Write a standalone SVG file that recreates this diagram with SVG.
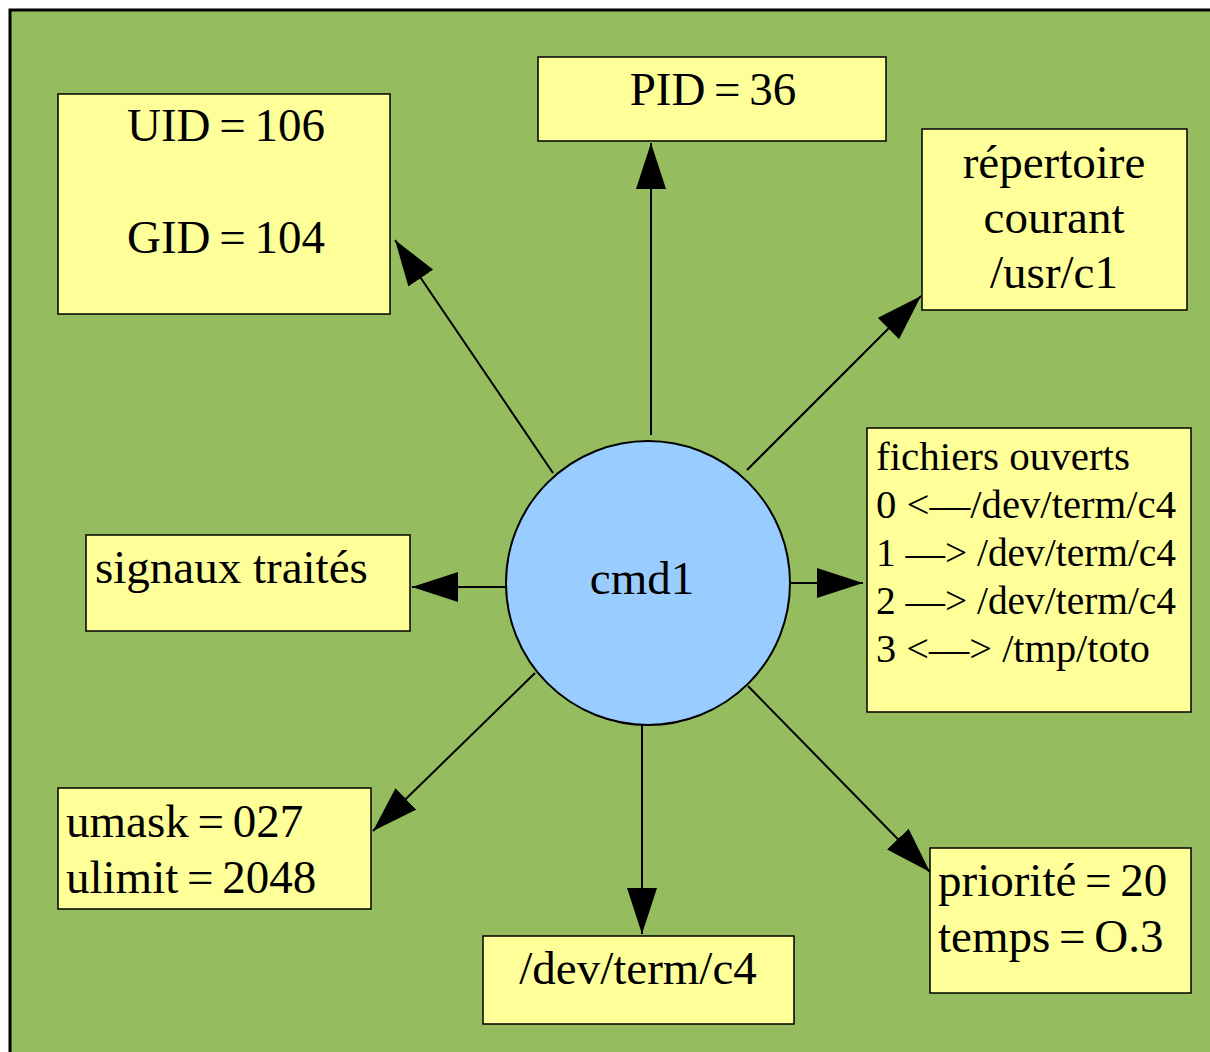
<svg xmlns="http://www.w3.org/2000/svg" width="1210" height="1052" viewBox="0 0 1210 1052">
<defs>
<style>
.box{fill:#ffff99;stroke:#000;stroke-width:1.5}
.t{font-family:"Liberation Serif","Times New Roman",serif;fill:#000;font-size:47px}
.eq{word-spacing:-3px}
.f{font-size:41px}
.c{stroke:#000;stroke-width:2;fill:none}
</style>
<marker id="ah" markerWidth="46" markerHeight="30" refX="46" refY="15" orient="auto" markerUnits="userSpaceOnUse">
<path d="M0,0 L46,15 L0,30 Z" fill="#000"/>
</marker>
</defs>
<rect x="0" y="0" width="1210" height="1052" fill="#fff"/>
<rect x="10" y="10" width="1220" height="1060" fill="#95bd5f" stroke="#000" stroke-width="3"/>
<g id="connectors">
<line class="c" x1="553" y1="473" x2="395" y2="240" marker-end="url(#ah)"/>
<line class="c" x1="651" y1="435" x2="651" y2="143" marker-end="url(#ah)"/>
<line class="c" x1="747" y1="470" x2="921" y2="296" marker-end="url(#ah)"/>
<line class="c" x1="790" y1="583" x2="863" y2="583" marker-end="url(#ah)"/>
<line class="c" x1="506" y1="587" x2="412" y2="587" marker-end="url(#ah)"/>
<line class="c" x1="535" y1="673" x2="373" y2="831" marker-end="url(#ah)"/>
<line class="c" x1="642" y1="716" x2="642" y2="934" marker-end="url(#ah)"/>
<line class="c" x1="748" y1="686" x2="930" y2="872" marker-end="url(#ah)"/>
</g>
<g id="cmd1">
<circle cx="648" cy="583" r="142" fill="#99ccff" stroke="#000" stroke-width="2"/>
<text class="t" x="642" y="594" font-size="51" text-anchor="middle">cmd1</text>
</g>
<g id="uid">
<rect class="box" x="58" y="94" width="332" height="220"/>
<text class="t eq" x="226" y="141" text-anchor="middle">UID = 106</text>
<text class="t eq" x="226" y="253" text-anchor="middle">GID = 104</text>
</g>
<g id="pid">
<rect class="box" x="538" y="57" width="348" height="84"/>
<text class="t eq" x="713" y="105" text-anchor="middle">PID = 36</text>
</g>
<g id="repertoire">
<rect class="box" x="922" y="129" width="265" height="181"/>
<text class="t" x="1054" y="178" text-anchor="middle">répertoire</text>
<text class="t" x="1054" y="233" text-anchor="middle">courant</text>
<text class="t" x="1054" y="288" text-anchor="middle">/usr/c1</text>
</g>
<g id="fichiers">
<rect class="box" x="867" y="428" width="324" height="284"/>
<text class="t f" x="876" y="470">fichiers ouverts</text>
<text class="t f" x="876" y="518" textLength="300" lengthAdjust="spacingAndGlyphs">0 &lt;—/dev/term/c4</text>
<text class="t f" x="876" y="566" textLength="300" lengthAdjust="spacingAndGlyphs">1 —&gt; /dev/term/c4</text>
<text class="t f" x="876" y="614" textLength="300" lengthAdjust="spacingAndGlyphs">2 —&gt; /dev/term/c4</text>
<text class="t f" x="876" y="662" textLength="274" lengthAdjust="spacingAndGlyphs">3 &lt;—&gt; /tmp/toto</text>
</g>
<g id="signaux">
<rect class="box" x="86" y="535" width="324" height="96"/>
<text class="t" x="95" y="583">signaux traités</text>
</g>
<g id="umask">
<rect class="box" x="58" y="788" width="313" height="121"/>
<text class="t eq" x="66" y="837">umask = 027</text>
<text class="t eq" x="66" y="893">ulimit = 2048</text>
</g>
<g id="devterm">
<rect class="box" x="483" y="936" width="311" height="88"/>
<text class="t" x="638" y="984" text-anchor="middle">/dev/term/c4</text>
</g>
<g id="priorite">
<rect class="box" x="930" y="848" width="261" height="145"/>
<text class="t eq" x="938" y="896">priorité = 20</text>
<text class="t eq" x="938" y="952">temps = O.3</text>
</g>
</svg>
